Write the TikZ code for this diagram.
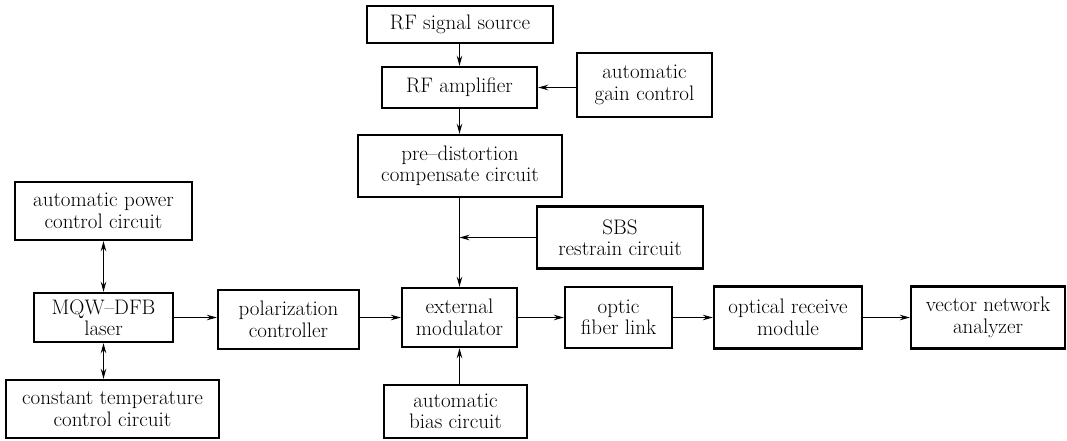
\documentclass[tikz,border=0pt]{standalone}
\usetikzlibrary{arrows.meta}
\begin{document}
\begin{tikzpicture}[x=1pt,y=-1pt,
  box/.style={draw, line width=2.4pt, inner sep=0pt, align=center, font=\fontsize{21}{21.5}\selectfont},
  arr/.style={line width=1.2pt, -{Stealth[length=10pt,width=5.5pt]}},
  darr/.style={line width=1.2pt, {Stealth[length=10pt,width=5.5pt]}-{Stealth[length=10pt,width=5.5pt]}}]
\useasboundingbox[fill=white] (0,0) rectangle (1067,441);
\node[box, minimum width=186pt, minimum height=37pt] (src) at (460,24.5) {RF signal source};
\node[box, minimum width=155pt, minimum height=41pt] (amp) at (459.5,87.5) {RF amplifier};
\node[box, minimum width=135pt, minimum height=64pt] (agc) at (644.5,85) {automatic\\gain control};
\node[box, minimum width=204pt, minimum height=62pt] (pre) at (460,166) {pre--distortion\\compensate circuit};
\node[box, minimum width=177pt, minimum height=58pt] (apc) at (103.5,211) {automatic power\\control circuit};
\node[box, minimum width=166pt, minimum height=62pt] (sbs) at (620,237.5) {SBS\\restrain circuit};
\node[box, minimum width=139pt, minimum height=49pt] (mqw) at (103.5,317.5) {MQW--DFB\\laser};
\node[box, minimum width=141pt, minimum height=59pt] (pol) at (288.5,319.5) {polarization\\controller};
\node[box, minimum width=115pt, minimum height=59pt] (ext) at (459.5,317.5) {external\\modulator};
\node[box, minimum width=107pt, minimum height=61pt] (fib) at (618.5,317.5) {optic\\fiber link};
\node[box, minimum width=148pt, minimum height=62pt] (rcv) at (788,317.5) {optical receive\\module};
\node[box, minimum width=154pt, minimum height=62pt] (vna) at (988,317.5) {vector network\\analyzer};
\node[box, minimum width=213pt, minimum height=58pt] (ctc) at (112.5,409) {constant temperature\\control circuit};
\node[box, minimum width=143pt, minimum height=53pt] (bias) at (455.5,411.5) {automatic\\bias circuit};
\coordinate (sbsj) at (ext.north |- sbs.west);
\draw[arr] (src.south -| amp.north) -- (amp.north);
\draw[arr] (agc.west |- amp.east) -- (amp.east);
\draw[arr] (amp.south) -- (amp.south |- pre.north);
\draw[arr] (ext.north |- pre.south) -- (ext.north);
\draw[arr] (sbs.west) -- (sbsj);
\draw[darr] (mqw.north |- apc.south) -- (mqw.north);
\draw[darr] (mqw.south) -- (mqw.south |- ctc.north);
\draw[arr] (mqw.east) -- (pol.west |- mqw.east);
\draw[arr] (pol.east |- ext.west) -- (ext.west);
\draw[arr] (ext.east) -- (fib.west |- ext.east);
\draw[arr] (fib.east |- rcv.west) -- (rcv.west);
\draw[arr] (rcv.east) -- (vna.west);
\draw[arr] (ext.south |- bias.north) -- (ext.south);
\end{tikzpicture}
\end{document}
